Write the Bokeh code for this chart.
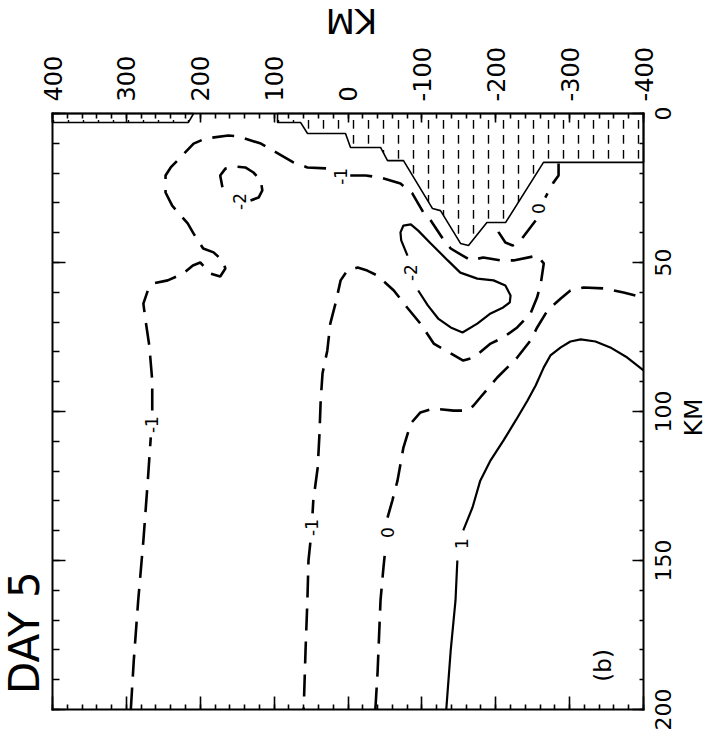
import math
import numpy as np
from bokeh.plotting import figure
from bokeh.models import Range1d, LinearAxis, FixedTicker, Label, CustomJSTickFormatter
from bokeh.core.properties import value
from bokeh.embed import file_html
from bokeh.resources import INLINE

nan = float("nan")

# ---------------- axes data ----------------
horiz_major = [400, 300, 200, 100, 0, -100, -200, -300, -400]
horiz_labels = ["400", "300", "200", "100", "0", "-100", "-200", "-300", "-400"]
horiz_minor = list(range(-400, 401, 20))
depth_major = [0, 50, 100, 150, 200]
depth_labels = ["0", "50", "100", "150", "200"]
depth_minor = list(range(0, 201, 10))

# ---------------- contour data (km, depth km) ----------------
# contour -1 (dashed, one long line with label gaps)
cm1_x = [294, 290, 284, 277, 271, 267, nan, 265, 265, 269, 274, 277, 271, 263, 244, 223, 210, 200, 186, 173,
         166, 170, 182, 196, 209, 217, 238, 247, 247, 240, 231, 209, 193, 162, 148, 118, 102, 74, 55, 24, nan,
         -3, -24, -44, -71, -87, -102, -112, -128, -139, -166, -183, -206, -224, -256, -265, -261, -256, -247,
         -229, -210, -193, -170, -156, -139, -116, -98, -80, -62, -40, -26, -13, 1, 10, 17, 24, 28, 34.5, 37,
         38.6, 41, 47, 48, nan, 51, 53.5, 55, 57.5, 60]
cm1_y = [200, 183.6, 163.4, 143.3, 123.2, 108.7, nan, 99.7, 89.6, 77.9, 69.5, 63.8, 59.4, 57, 56, 53.7, 51, 50,
         53.7, 54.7, 52, 49.3, 46.6, 45.3, 40.3, 36.9, 30.9, 26.5, 20.8, 18.1, 15.8, 10.1, 8.4, 7.4, 7.7, 10.1,
         12.4, 16.4, 18.1, 18.5, nan, 20.8, 20.8, 21.5, 23.5, 26.8, 33.2, 35.9, 41.9, 45.3, 49.3, 48.3, 49.3,
         49.3, 47.7, 50.3, 57, 61.7, 67.1, 71.8, 75.2, 77.2, 81.9, 82.9, 80.5, 77.2, 70.5, 65.1, 59.4, 54.4,
         52.7, 51.7, 52.7, 56, 63.8, 70.5, 79.5, 87.2, 96.3, 107.4, 118.8, 129.9, 134.2, nan, 144, 150, 163.4,
         180.2, 200]

# contour -2 (dashed small loop, upper left)
cm2a_x = [132, 121, 116, 118, 128, 139, 152, 166, 173, 170, 162]
cm2a_y = [29.2, 28.2, 25.8, 22.5, 19.8, 18.1, 17.8, 18.5, 20.8, 24.8, 27.5]

# contour -2 (solid loop)
cm2b_x = [-80.5, -72, -71, -75, -85, -95, -112, -135, -152, -175, -197, -213, -220, -219, -210, -193, -175,
          -155, -139, -122, -108, -95]
cm2b_y = [47.7, 42.6, 39.9, 37.6, 37.2, 39.3, 43.6, 49.3, 53.4, 55.4, 56, 57.7, 61.1, 63.4, 65.1, 67.1, 70.5,
          73.5, 71.8, 68.8, 64.4, 59.4]

# contour 0 (dashed, under the shaded area)
c0a_x = [-285, -285, -278, -267, nan, -254, -233.5, -223, -213, -204, -202]
c0a_y = [16.8, 20.8, 23.2, 28.2, nan, 35.9, 42.6, 44.3, 43.3, 39.9, 36.6]

# contour 0 (dashed, main)
c0b_x = [-37, -40, -44, -48, -51, nan, -53.5, -60, -67, -75, -85, -98, -116, -143, -162, -170, -179, -202,
         -229, -247, -256, -270, -288, -301, -319, -346, -373, -400]
c0b_y = [200, 187.6, 163.4, 152.3, 145, nan, 135.6, 129.9, 123.2, 112.1, 104, 100.3, 99, 99.7, 99.7, 98, 95.3,
         88.6, 81.9, 76.2, 71.8, 66.1, 62.1, 59.4, 58.4, 58.7, 60.1, 61.7]

# contour 1 (solid)
c1_x = [-133, -139, -145.5, -148, nan, -156, -168.5, -179, -193, -210.5, -227, -243, -254, -265, -274, -288,
        -301, -315, -335, -355, -378, -400]
c1_y = [200, 180.2, 163.4, 150, nan, 139.9, 132.2, 123.2, 116.4, 109.7, 103, 96.3, 91.3, 85.2, 81.2, 78.5,
        76.5, 75.8, 76.5, 78.5, 81.9, 86.2]

# contour labels
lab_x = [266, 10, 49.5, 147, -84.6, -258, -53.5, -153.6]
lab_y = [104.4, 21.1, 138.9, 29.5, 53.4, 31.9, 140.6, 144.3]
lab_t = ["-1", "-1", "-1", "-2", "-2", "0", "0", "1"]

# shaded (hatched) region outlines
shade_x = [95.4, 95.4, 64.3, 54.8, 3.4, -3.4, -44, -53.5, -75.1, -114.4, -125.2, -152.3, -163.1, -188,
           -213.2, -264.6, -400, -400]
shade_y = [0, 3.0, 3.0, 6.7, 6.7, 11.4, 11.4, 15.8, 15.8, 31.9, 32.6, 43.6, 44.3, 36.6, 36.6, 16.4, 16.4, 0]
strip_x = [400, 400, 216, 209]
strip_y = [0, 3.0, 3.0, 0]

FONT = "DejaVu Sans"

# The frame fills the whole page; the plotted box (400..-400 km, 0..200 km) sits inside it
p = figure(width=720, height=750,
           x_range=Range1d(470.4, -504.2), y_range=Range1d(213.76, -37.92),
           x_axis_location=None, y_axis_location=None,
           toolbar_location=None, output_backend="svg",
           min_border_left=0, min_border_right=0, min_border_top=0, min_border_bottom=0,
           background_fill_color="white", border_fill_color="white")
p.xgrid.visible = False
p.ygrid.visible = False
p.outline_line_color = None

# shaded region
p.patches(xs=[shade_x, strip_x], ys=[shade_y, strip_y], fill_color="white",
          hatch_pattern="vertical_dash", hatch_color="black", hatch_scale=15, hatch_weight=1.4,
          line_color="black", line_width=1.6)

DASH = "22 11"
for xs, ys, dash, w in [(cm1_x, cm1_y, DASH, 2.6), (cm2a_x, cm2a_y, DASH, 2.6), (cm2b_x, cm2b_y, "solid", 2.2),
                        (c0a_x, c0a_y, DASH, 2.6), (c0b_x, c0b_y, DASH, 2.6), (c1_x, c1_y, "solid", 2.2)]:
    p.line(np.array(xs, dtype=float), np.array(ys, dtype=float), line_color="black", line_width=w,
           line_dash=dash)

p.text(x=lab_x, y=lab_y, text=lab_t, angle=math.pi / 2, text_align="center", text_baseline="middle",
       text_font=value(FONT), text_font_size="17px", text_color="black")


def make_axis(major, minor, tin_major, tin_minor, loc, bounds, show_labels=False):
    ax = LinearAxis(ticker=FixedTicker(ticks=major, minor_ticks=minor), fixed_location=loc, bounds=bounds)
    ax.major_tick_in = tin_major
    ax.major_tick_out = 0
    ax.minor_tick_in = tin_minor
    ax.minor_tick_out = 0
    ax.axis_line_width = 2
    ax.axis_line_cap = "square"
    ax.major_tick_line_width = 1.6
    ax.minor_tick_line_width = 1.6
    if not show_labels:
        ax.formatter = CustomJSTickFormatter(code="return ''")
    return ax


p.add_layout(make_axis(horiz_major, horiz_minor, 13, 5, 200, (-400, 400)), "below")
p.add_layout(make_axis(depth_major, depth_minor, 13, 7, 400, (0, 200)), "left")
p.add_layout(make_axis(depth_major, depth_minor, 11, 4, -400, (0, 200)), "right")

top = make_axis(horiz_major, horiz_minor, 9, 5, 0, (-400, 400), show_labels=True)
top.major_label_overrides = {float(k): s for k, s in zip(horiz_major, horiz_labels)}
top.major_label_text_font_size = "24px"
top.major_label_text_font = FONT
top.major_label_text_color = "black"
top.major_label_orientation = math.pi / 2
top.major_label_standoff = 12
p.add_layout(top, "above")

# right-hand tick labels, rotated like the rest of the page
p.text(x=[-414.9] * len(depth_major), y=depth_major, text=depth_labels, angle=math.pi / 2,
       text_align="center", text_baseline="top", text_font=value(FONT), text_font_size="22px",
       text_color="black")

p.add_layout(Label(x=-4.7, y=-31.2, text="KM", angle=math.pi, text_align="center", text_baseline="middle",
                   text_font=FONT, text_font_size="34px", text_color="black"))
p.add_layout(Label(x=-468, y=102, text="KM", angle=math.pi / 2, text_align="center",
                   text_baseline="middle", text_font=FONT, text_font_size="25px", text_color="black"))
p.add_layout(Label(x=437.9, y=174.2, text="DAY 5", angle=math.pi / 2, text_align="center",
                   text_baseline="middle", text_font=FONT, text_font_size="42px", text_color="black"))
p.add_layout(Label(x=-345.8, y=185.2, text="(b)", angle=math.pi / 2, text_align="center",
                   text_baseline="middle", text_font=FONT, text_font_size="23px", text_color="black"))

open("out.html", "w").write(file_html(p, INLINE))
